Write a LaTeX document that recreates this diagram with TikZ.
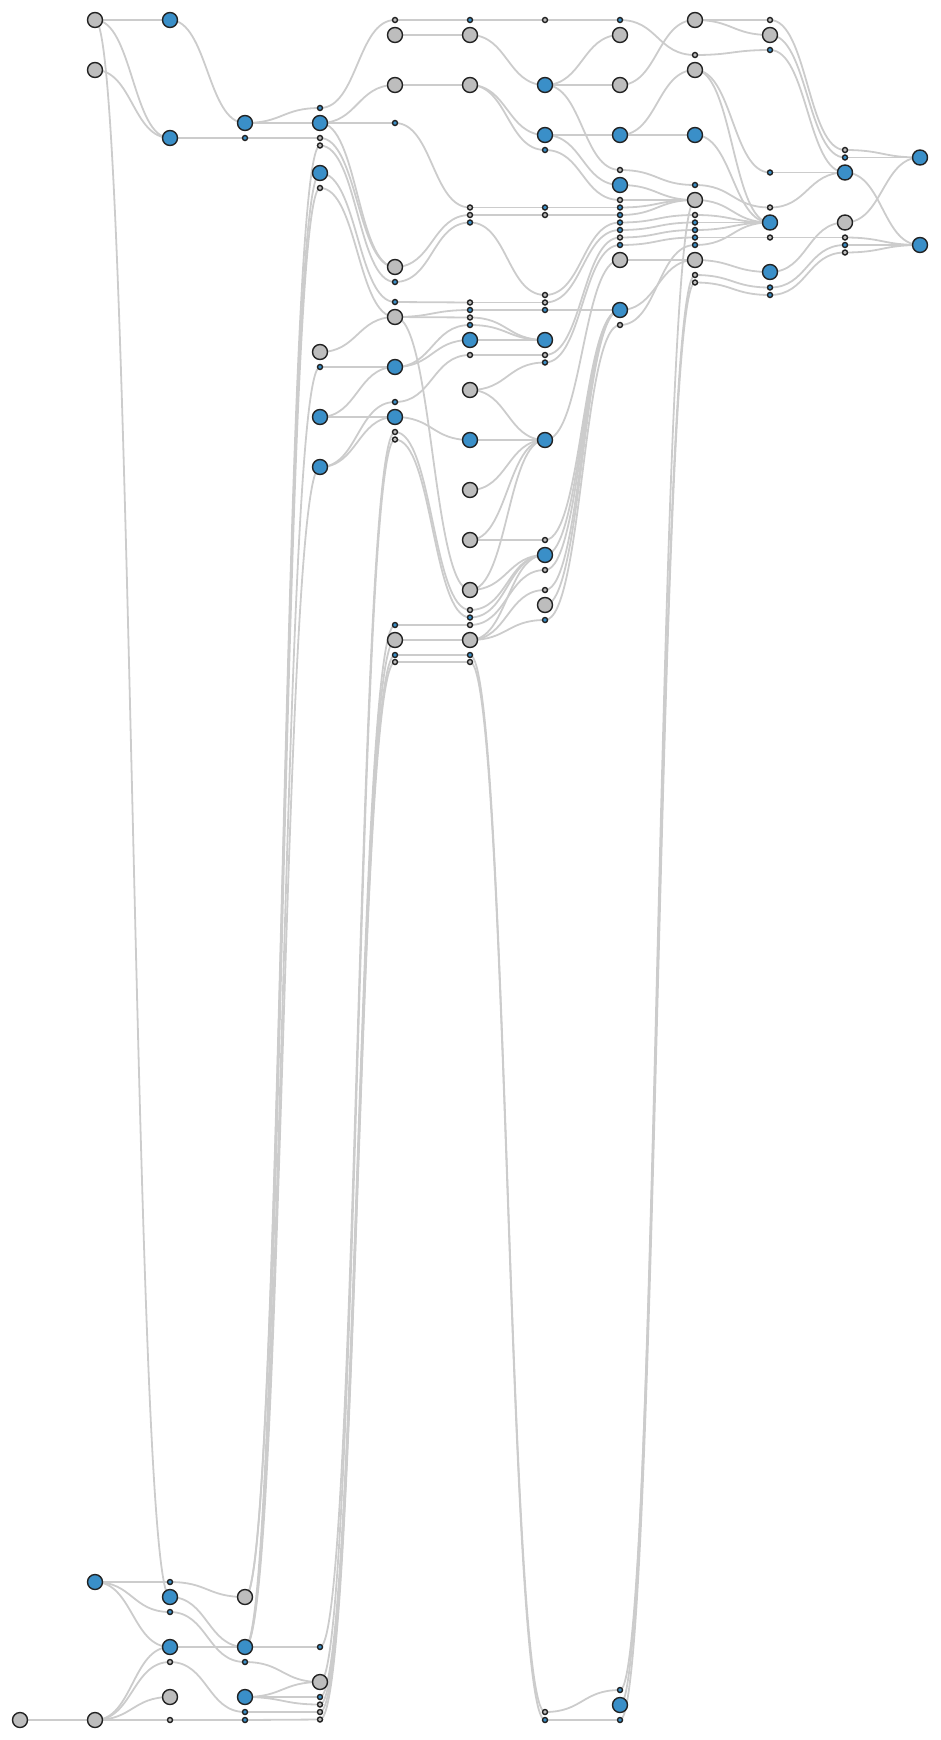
\documentclass[tikz,border=0pt]{standalone}
\usetikzlibrary{calc}
\pgfdeclarelayer{edges}
\pgfsetlayers{edges,main}
\definecolor{nblue}{HTML}{3A8FC8}
\definecolor{ngray}{HTML}{BDBDBD}
\definecolor{nline}{HTML}{222222}
\definecolor{eline}{HTML}{CCCCCC}
\tikzset{
 nd/.style={circle,draw=nline,line width=1.4pt,inner sep=0pt,outer sep=0pt},
 BB/.style={nd,fill=nblue,minimum size=15pt},
 BG/.style={nd,fill=ngray,minimum size=15pt},
 SB/.style={nd,fill=nblue,minimum size=5pt},
 SG/.style={nd,fill=ngray,minimum size=5pt},
 link/.style={draw=eline,line width=1.8pt},
}
\newcommand\nd[4]{\node[#1] (#2) at (#3,#4) {};}
\newcommand\lk[2]{\draw[link] let \p1=(#1.center),\p2=(#2.center) in (\p1) .. controls ({(\x1+\x2)/2},\y1) and ({(\x1+\x2)/2},\y2) .. (\p2);}
\begin{document}
\begin{tikzpicture}[x=1pt,y=-1pt]
\useasboundingbox (0,0) rectangle (940,1740);
% column a
\nd{BG}{a1720}{20}{1720}
% column b
\nd{BG}{b20}{95}{20}\nd{BG}{b70}{95}{70}\nd{BB}{b1582}{95}{1582}\nd{BG}{b1720}{95}{1720}
% column c
\nd{BB}{c20}{170}{20}\nd{BB}{c138}{170}{138}\nd{SB}{c1582}{170}{1582}\nd{BB}{c1597}{170}{1597}
\nd{SB}{c1612}{170}{1612}\nd{BB}{c1647}{170}{1647}\nd{SG}{c1662}{170}{1662}\nd{BG}{c1697}{170}{1697}\nd{SG}{c1720}{170}{1720}
% column d
\nd{BB}{d123}{245}{123}\nd{SB}{d138}{245}{138}\nd{BG}{d1597}{245}{1597}\nd{BB}{d1647}{245}{1647}
\nd{SB}{d1662}{245}{1662}\nd{BB}{d1697}{245}{1697}\nd{SB}{d1712}{245}{1712}\nd{SB}{d1720}{245}{1720}
% column e
\nd{SB}{e108}{320}{108}\nd{BB}{e123}{320}{123}\nd{SG}{e138}{320}{138}\nd{SG}{e146}{320}{145.5}
\nd{BB}{e173}{320}{173}\nd{SG}{e188}{320}{188}\nd{BG}{e352}{320}{352}\nd{SB}{e367}{320}{367}
\nd{BB}{e417}{320}{417}\nd{BB}{e467}{320}{467}\nd{SB}{e1647}{320}{1647}\nd{BG}{e1682}{320}{1682}
\nd{SB}{e1697}{320}{1697}\nd{SG}{e1705}{320}{1704.5}\nd{SG}{e1712}{320}{1712}\nd{SG}{e1720}{320}{1719.5}
% column f
\nd{SG}{f20}{395}{20}\nd{BG}{f35}{395}{35}\nd{BG}{f85}{395}{85}\nd{SB}{f123}{395}{123}
\nd{BG}{f267}{395}{267}\nd{SB}{f282}{395}{282}\nd{SB}{f302}{395}{302}\nd{BG}{f317}{395}{317}
\nd{BB}{f367}{395}{367}\nd{SB}{f402}{395}{402}\nd{BB}{f417}{395}{417}\nd{SG}{f432}{395}{432}
\nd{SG}{f440}{395}{439.5}\nd{SB}{f625}{395}{625}\nd{BG}{f640}{395}{640}\nd{SB}{f655}{395}{655}\nd{SG}{f662}{395}{662}
% column g
\nd{SB}{g20}{470}{20}\nd{BG}{g35}{470}{35}\nd{BG}{g85}{470}{85}
\nd{SG}{g207}{470}{207.5}\nd{SG}{g215}{470}{215}\nd{SB}{g222}{470}{222.5}
\nd{SG}{g302}{470}{302.5}\nd{SB}{g310}{470}{310}\nd{SG}{g317}{470}{317.5}\nd{SB}{g325}{470}{325}
\nd{BB}{g340}{470}{340}\nd{SG}{g355}{470}{355}\nd{BG}{g390}{470}{390}\nd{BB}{g440}{470}{440}
\nd{BG}{g490}{470}{490}\nd{BG}{g540}{470}{540}\nd{BG}{g590}{470}{590}
\nd{SG}{g610}{470}{610}\nd{SB}{g617}{470}{617.5}\nd{SG}{g625}{470}{625}\nd{BG}{g640}{470}{640}
\nd{SB}{g655}{470}{655}\nd{SG}{g662}{470}{662}
% column h
\nd{SG}{h20}{545}{20}\nd{BB}{h85}{545}{85}\nd{BB}{h135}{545}{135}\nd{SB}{h150}{545}{150}
\nd{SB}{h207}{545}{207.5}\nd{SG}{h215}{545}{215}\nd{SG}{h295}{545}{295}\nd{SG}{h302}{545}{302.5}
\nd{SB}{h310}{545}{310}\nd{BB}{h340}{545}{340}\nd{SG}{h355}{545}{355}\nd{SB}{h362}{545}{362.5}
\nd{BB}{h440}{545}{440}\nd{SG}{h540}{545}{540}\nd{BB}{h555}{545}{555}\nd{SG}{h570}{545}{570}
\nd{SG}{h590}{545}{590}\nd{BG}{h605}{545}{605}\nd{SB}{h620}{545}{620}
\nd{SG}{h1712}{545}{1712}\nd{SB}{h1720}{545}{1720}
% column i
\nd{SB}{i20}{620}{20}\nd{BG}{i35}{620}{35}\nd{BG}{i85}{620}{85}\nd{BB}{i135}{620}{135}
\nd{SG}{i170}{620}{170}\nd{BB}{i185}{620}{185}\nd{SG}{i200}{620}{200}\nd{SB}{i207}{620}{207.5}
\nd{SB}{i215}{620}{215}\nd{SB}{i222}{620}{222.5}\nd{SB}{i230}{620}{230}\nd{SG}{i237}{620}{237.5}
\nd{SB}{i245}{620}{245}\nd{BG}{i260}{620}{260}\nd{BB}{i310}{620}{310}\nd{SG}{i325}{620}{325}
\nd{SB}{i1690}{620}{1690}\nd{BB}{i1705}{620}{1705}\nd{SB}{i1720}{620}{1720}
% column j
\nd{BG}{j20}{695}{20}\nd{SG}{j55}{695}{55}\nd{BG}{j70}{695}{70}\nd{BB}{j135}{695}{135}
\nd{SB}{j185}{695}{185}\nd{BG}{j200}{695}{200}\nd{SG}{j215}{695}{215}\nd{SB}{j222}{695}{222.5}
\nd{SB}{j230}{695}{230}\nd{SB}{j237}{695}{237.5}\nd{SB}{j245}{695}{245}\nd{BG}{j260}{695}{260}
\nd{SG}{j275}{695}{275}\nd{SG}{j282}{695}{282.5}
% column k
\nd{SG}{k20}{770}{20}\nd{BG}{k35}{770}{35}\nd{SB}{k50}{770}{50}\nd{SB}{k172}{770}{172.5}
\nd{SG}{k207}{770}{207.5}\nd{BB}{k222}{770}{222.5}\nd{SG}{k237}{770}{237.5}\nd{BB}{k272}{770}{272}
\nd{SB}{k287}{770}{287.5}\nd{SB}{k295}{770}{295}
% column l
\nd{SG}{l150}{845}{150}\nd{SB}{l157}{845}{157.5}\nd{BB}{l172}{845}{172.5}\nd{BG}{l222}{845}{222.5}
\nd{SG}{l237}{845}{237.5}\nd{SB}{l245}{845}{245}\nd{SG}{l252}{845}{252.5}
% column m
\nd{BB}{m157}{920}{157.5}\nd{BB}{m245}{920}{245}
\begin{pgfonlayer}{edges}
\lk{a1720}{b1720}
\lk{b20}{c20}\lk{b20}{c138}\lk{b70}{c138}\lk{b20}{c1597}
\lk{b1582}{c1582}\lk{b1582}{c1612}\lk{b1582}{c1647}
\lk{b1720}{c1647}\lk{b1720}{c1662}\lk{b1720}{c1697}\lk{b1720}{c1720}
\lk{c20}{d123}\lk{c138}{d138}\lk{c1582}{d1597}\lk{c1597}{d1647}\lk{c1612}{d1662}
\lk{c1647}{d1647}\lk{c1662}{d1712}\lk{c1720}{d1720}
\lk{d123}{e108}\lk{d123}{e123}\lk{d138}{e138}\lk{d1597}{e146}\lk{d1597}{e173}
\lk{d1647}{e188}\lk{d1647}{e367}\lk{d1647}{e467}\lk{d1647}{e1647}
\lk{d1662}{e1682}\lk{d1697}{e1682}\lk{d1697}{e1697}\lk{d1697}{e1705}\lk{d1712}{e1712}\lk{d1720}{e1720}
\lk{e108}{f20}\lk{e123}{f85}\lk{e123}{f123}\lk{e123}{f267}\lk{e138}{f267}\lk{e146}{f282}
\lk{e173}{f302}\lk{e188}{f317}\lk{e352}{f317}\lk{e367}{f367}\lk{e417}{f367}\lk{e417}{f417}
\lk{e467}{f402}\lk{e467}{f417}
\lk{e1647}{f432}\lk{e1682}{f440}\lk{e1697}{f625}\lk{e1705}{f640}\lk{e1712}{f655}\lk{e1720}{f662}
\lk{f20}{g20}\lk{f35}{g35}\lk{f85}{g85}\lk{f123}{g207}\lk{f267}{g215}\lk{f282}{g222}
\lk{f302}{g302}\lk{f317}{g310}\lk{f317}{g317}\lk{f317}{g590}\lk{f367}{g325}\lk{f367}{g340}\lk{f402}{g355}
\lk{f417}{g440}\lk{f432}{g610}\lk{f440}{g617}\lk{f625}{g625}\lk{f640}{g640}\lk{f655}{g655}\lk{f662}{g662}
\lk{g20}{h20}\lk{g35}{h85}\lk{g85}{h135}\lk{g85}{h150}\lk{g207}{h207}\lk{g215}{h215}\lk{g222}{h295}
\lk{g302}{h302}\lk{g310}{h310}\lk{g317}{h340}\lk{g325}{h340}\lk{g340}{h340}\lk{g355}{h355}
\lk{g390}{h362}\lk{g390}{h440}\lk{g440}{h440}\lk{g490}{h440}\lk{g540}{h440}\lk{g540}{h540}
\lk{g590}{h440}\lk{g590}{h555}\lk{g610}{h555}\lk{g617}{h555}\lk{g625}{h570}
\lk{g640}{h555}\lk{g640}{h590}\lk{g640}{h620}\lk{g655}{h1712}\lk{g662}{h1720}
\lk{h20}{i20}\lk{h85}{i35}\lk{h85}{i85}\lk{h85}{i170}\lk{h135}{i135}\lk{h135}{i185}\lk{h150}{i200}
\lk{h207}{i207}\lk{h215}{i215}\lk{h295}{i222}\lk{h302}{i230}\lk{h310}{i310}\lk{h355}{i237}\lk{h362}{i245}
\lk{h440}{i260}\lk{h540}{i310}\lk{h555}{i310}\lk{h570}{i310}\lk{h590}{i310}\lk{h605}{i310}\lk{h620}{i325}
\lk{h1712}{i1690}\lk{h1720}{i1720}
\lk{i20}{j55}\lk{i85}{j20}\lk{i135}{j70}\lk{i135}{j135}\lk{i170}{j185}
\lk{i185}{j200}\lk{i200}{j200}\lk{i207}{j200}\lk{i215}{j200}
\lk{i222}{j215}\lk{i230}{j222}\lk{i237}{j230}\lk{i245}{j237}\lk{i325}{j245}
\lk{i260}{j260}\lk{i310}{j260}\lk{i1690}{j275}\lk{i1705}{j200}\lk{i1720}{j282}
\lk{j20}{k20}\lk{j20}{k35}\lk{j55}{k50}\lk{j70}{k172}\lk{j70}{k222}\lk{j135}{k222}\lk{j185}{k207}
\lk{j200}{k222}\lk{j215}{k222}\lk{j222}{k222}\lk{j230}{k222}\lk{j237}{k237}\lk{j245}{k222}
\lk{j260}{k272}\lk{j275}{k287}\lk{j282}{k295}
\lk{k20}{l150}\lk{k35}{l157}\lk{k50}{l172}\lk{k172}{l172}\lk{k207}{l172}\lk{k237}{l237}
\lk{k272}{l222}\lk{k287}{l245}\lk{k295}{l252}
\lk{l150}{m157}\lk{l157}{m157}\lk{l172}{m245}\lk{l222}{m157}\lk{l237}{m245}\lk{l245}{m245}\lk{l252}{m245}
\end{pgfonlayer}
\end{tikzpicture}
\end{document}
